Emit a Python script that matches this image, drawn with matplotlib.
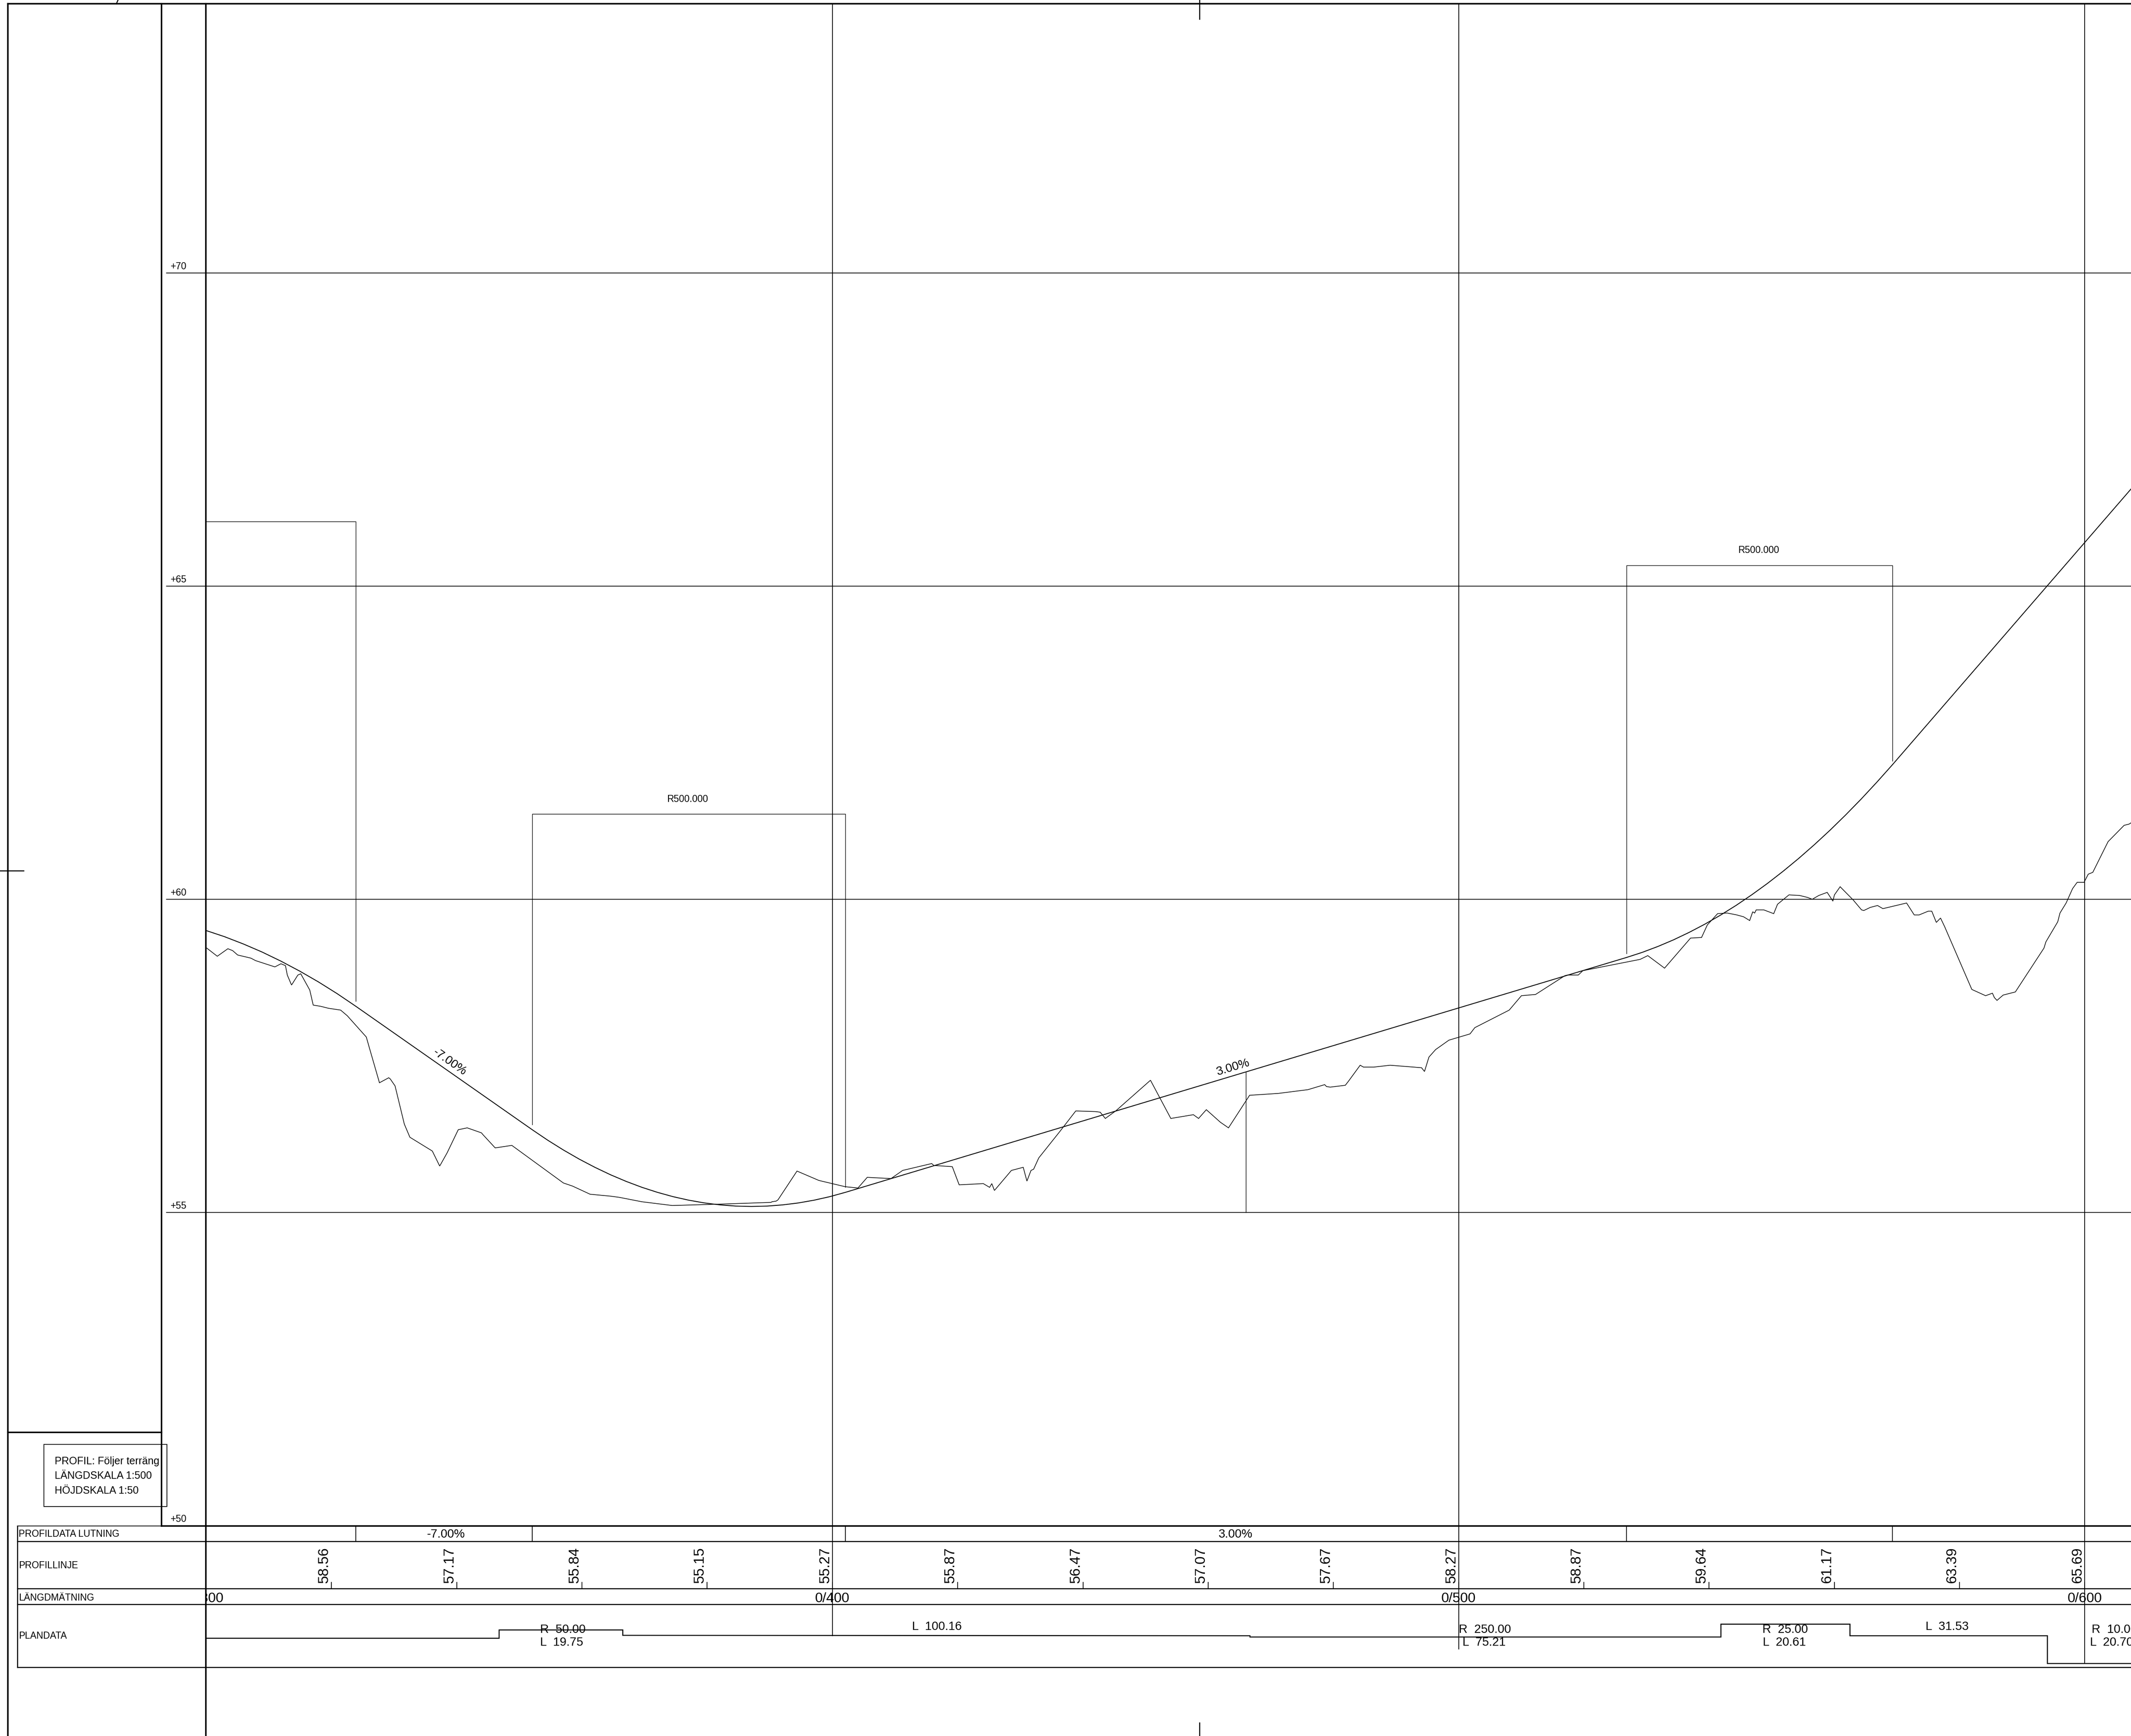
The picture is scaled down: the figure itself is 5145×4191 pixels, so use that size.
import matplotlib
matplotlib.use("Agg")
import matplotlib.pyplot as plt
import matplotlib.patches as patches
from matplotlib import transforms

plt.rcParams["font.family"] = ["Liberation Sans", "DejaVu Sans"]

# terrain line, station (m) / elevation (m)
terrain_st = [300.08, 301.76, 303.45, 304.21, 305.01, 307.12, 307.88, 310.96, 311.93, 312.65,
              312.94, 313.62, 314.63, 315.09, 316.53, 317.08, 318.30, 319.48, 321.46, 322.52,
              325.56, 326.10, 327.66, 329.14, 329.39, 330.15, 331.63, 332.52, 336.10, 337.28,
              338.46, 340.24, 341.67, 343.95, 344.20, 346.14, 348.80, 357.03, 358.50, 361.30,
              364.51, 365.99, 369.57, 374.42, 381.38, 390.20, 390.33, 391.00, 391.30, 394.34,
              397.84, 402.06, 404.08, 405.56, 409.35, 411.21, 415.85, 416.19, 419.14, 420.24,
              424.09, 425.10, 425.45, 425.87, 428.58, 430.47, 431.06, 431.71, 432.13, 432.95,
              436.38, 438.86, 441.99, 442.76, 443.58, 445.24, 450.79, 454.04, 457.64, 458.47,
              459.71, 461.95, 463.25, 466.62, 471.22, 475.95, 478.61, 478.90, 479.49, 481.91,
              482.45, 484.28, 484.81, 486.46, 489.06, 494.08, 494.55, 495.26, 496.33, 498.45,
              501.82, 502.59, 508.08, 510.03, 512.29, 516.98, 517.41, 519.11, 519.85, 528.99,
              530.21, 532.89, 537.04, 538.80, 539.72, 541.36, 542.89, 544.41, 545.51, 546.48,
              546.97, 547.28, 547.52, 548.74, 550.32, 550.93, 552.76, 554.47, 555.69, 556.48,
              557.52, 558.86, 559.77, 560.02, 560.93, 563.00, 564.35, 564.71, 565.75, 566.90,
              567.76, 571.54, 572.76, 573.55, 575.01, 575.56, 576.29, 576.96, 577.63, 581.96,
              584.16, 585.25, 585.56, 585.98, 586.96, 588.91, 593.48, 593.79, 595.68, 596.04,
              597.02, 598.05, 598.78, 599.88, 600.55, 601.28, 603.72, 606.28, 607.07, 607.38]
terrain_el = [59.22, 59.09, 59.21, 59.18, 59.11, 59.06, 59.02, 58.92, 58.97, 58.94,
              58.79, 58.63, 58.79, 58.81, 58.55, 58.31, 58.29, 58.26, 58.23, 58.14,
              57.80, 57.61, 57.07, 57.15, 57.13, 57.02, 56.41, 56.20, 55.98, 55.74,
              55.95, 56.32, 56.35, 56.27, 56.24, 56.03, 56.07, 55.47, 55.42, 55.29,
              55.26, 55.24, 55.17, 55.11, 55.13, 55.16, 55.17, 55.18, 55.20, 55.66,
              55.51, 55.41, 55.39, 55.56, 55.54, 55.67, 55.78, 55.75, 55.73, 55.44,
              55.46, 55.40, 55.46, 55.35, 55.67, 55.72, 55.50, 55.67, 55.69, 55.87,
              56.30, 56.62, 56.61, 56.60, 56.50, 56.62, 57.11, 56.50, 56.56, 56.50,
              56.64, 56.44, 56.35, 56.87, 56.90, 56.96, 57.04, 57.01, 57.00, 57.03,
              57.10, 57.35, 57.32, 57.32, 57.35, 57.31, 57.25, 57.48, 57.60, 57.75,
              57.85, 57.95, 58.23, 58.46, 58.48, 58.78, 58.79, 58.79, 58.86, 59.04,
              59.10, 58.90, 59.38, 59.39, 59.59, 59.77, 59.78, 59.75, 59.72, 59.66,
              59.80, 59.78, 59.83, 59.83, 59.77, 59.92, 60.07, 60.06, 60.03, 60.00,
              60.06, 60.11, 59.97, 60.07, 60.20, 59.99, 59.83, 59.82, 59.87, 59.90,
              59.85, 59.94, 59.75, 59.75, 59.81, 59.81, 59.63, 59.70, 59.56, 58.56,
              58.46, 58.50, 58.43, 58.385, 58.47, 58.52, 59.22, 59.32, 59.64, 59.78,
              59.94, 60.17, 60.27, 60.27, 60.40, 60.43, 60.92, 61.18, 61.20, 61.22]

# design line
design_st = [300.08, 302.90, 305.90, 308.90, 311.90, 314.90, 317.90, 320.90, 323.90, 352.06,
             354.56, 357.06, 359.56, 362.06, 364.56, 367.06, 369.56, 372.06, 374.56, 377.06,
             379.56, 382.06, 384.56, 387.06, 389.56, 392.06, 394.56, 397.06, 399.56, 402.06,
             526.80, 529.30, 531.80, 534.30, 536.80, 539.30, 541.80, 544.30, 546.80, 549.30,
             551.80, 554.30, 556.80, 559.30, 561.80, 564.30, 566.80, 569.30, 607.38]
design_el = [59.497, 59.403, 59.287, 59.158, 59.013, 58.854, 58.681, 58.493, 58.29, 56.32,
             56.151, 55.995, 55.851, 55.72, 55.601, 55.495, 55.401, 55.32, 55.251, 55.195,
             55.151, 55.12, 55.101, 55.095, 55.101, 55.12, 55.151, 55.195, 55.251, 55.32,
             59.07, 59.151, 59.245, 59.351, 59.47, 59.601, 59.745, 59.901, 60.07, 60.251,
             60.445, 60.651, 60.87, 61.101, 61.345, 61.601, 61.87, 62.15, 66.55]

elev_lines = [70, 65, 60, 55]
elev_labels = ["+70", "+65", "+60", "+55", "+50"]
elev_label_at = [70, 65, 60, 55, 50]
grid_stations = [400, 500, 600]
grid_ends = [3949, 3981, 4016]
slope_breaks = [323.90, 352.06, 402.06, 526.80, 569.30]
profile_stations = [320, 340, 360, 380, 400, 420, 440, 460, 480, 500, 520, 540, 560, 580, 600]
profile_heights = ["58.56", "57.17", "55.84", "55.15", "55.27", "55.87", "56.47", "57.07",
                   "57.67", "58.27", "58.87", "59.64", "61.17", "63.39", "65.69"]
chainage_st = [300, 400, 500, 600]
chainage_labels = ["0/300", "0/400", "0/500", "0/600"]
plan_st = [300.0, 346.77, 346.77, 366.52, 366.52, 466.68, 466.68, 541.89, 541.89, 562.50,
           562.50, 594.03, 594.03, 607.38]
plan_lev = [3955, 3955, 3935, 3935, 3948, 3949, 3952, 3952, 3921, 3921, 3949, 3949, 4016, 4016]
row_names = ["PROFILDATA LUTNING", "PROFILLINJE", "LÄNGDMÄTNING", "PLANDATA"]
row_name_y = [3703, 3779, 3857, 3949]
row_lines = [3721, 3835, 3873, 4025]
legend_lines = ["PROFIL: Följer terräng", "LÄNGDSKALA 1:500", "HÖJDSKALA 1:50"]

fig = plt.figure(figsize=(51.45, 41.91), dpi=100, facecolor="white")

# sheet axes in drawing pixels, profile axes in metres, same area
sheet = fig.add_axes([0, 0, 1, 1])
sheet.set_xlim(0, 5145)
sheet.set_ylim(4191, 0)
sheet.axis("off")
prof = fig.add_axes([0, 0, 1, 1])
prof.set_xlim(267.06, 607.38)
prof.set_ylim(46.64, 74.358)
prof.axis("off")
prof.patch.set_alpha(0)

# x in station, y in sheet pixels (bottom table)
tab = transforms.blended_transform_factory(prof.transData, sheet.transData)
# x in sheet pixels, y in elevation (elevation labels)
elev = transforms.blended_transform_factory(sheet.transData, prof.transData)

THICK = 2.6
MID = 1.8
THIN = 1.3

# sheet frame
sheet.plot([19, 19], [4191, 9], color="black", lw=THICK)
sheet.plot([19, 5145], [9, 9], color="black", lw=THICK)
sheet.plot([390, 390], [9, 3684], color="black", lw=THICK)
sheet.plot([497, 497], [9, 4191], color="black", lw=THICK)
sheet.plot([19, 390], [3458, 3458], color="black", lw=THICK)
sheet.plot([390, 5145], [3684, 3684], color="black", lw=THICK)
sheet.plot([2896, 2896], [0, 46], color="black", lw=MID)
sheet.plot([2896, 2896], [4159, 4191], color="black", lw=MID)
sheet.plot([0, 57], [2102, 2102], color="black", lw=MID)
sheet.plot([281, 285], [9, 0], color="black", lw=MID)

# legend box
sheet.add_patch(patches.Rectangle((106, 3487), 297, 150, fill=False, ec="black", lw=THIN))
for txt, y in zip(legend_lines, [3528, 3563, 3599]):
    sheet.text(132, y, txt, fontsize=18, ha="left", va="center")

# elevation grid
for e in elev_lines:
    prof.plot([402, 5145], [e, e], color="black", lw=THIN, transform=elev)
for txt, e in zip(elev_labels, elev_label_at):
    prof.text(412, e + 0.105, txt, fontsize=16.5, ha="left", va="center", transform=elev)

# station grid
for s, yend in zip(grid_stations, grid_ends):
    prof.plot([s, s], [9, yend], color="black", lw=THIN, transform=tab)

# vertical curve brackets
prof.plot([300, 323.90, 323.90], [66.03, 66.03, 58.37], color="black", lw=1.0)
prof.plot([352.06, 352.06, 402.06, 402.06], [56.40, 61.36, 61.36, 55.40], color="black", lw=1.0)
prof.plot([526.80, 526.80, 569.30, 569.30], [59.135, 65.33, 65.33, 62.21], color="black", lw=1.0)
prof.plot([466.03, 466.03], [55, 57.24], color="black", lw=1.0)
prof.text(376.86, 61.60, "R500.000", fontsize=16.5, ha="center", va="center")
prof.text(547.90, 65.57, "R500.000", fontsize=16.5, ha="center", va="center")

# profile lines
prof.plot(terrain_st, terrain_el, color="black", lw=1.15, solid_joinstyle="miter")
prof.plot(design_st, design_el, color="black", lw=1.5)
prof.text(338.9, 57.40, "-7.00%", fontsize=21, rotation=-35, rotation_mode="anchor", ha="center", va="center")
prof.text(464.0, 57.32, "3.00%", fontsize=21, rotation=16.7, rotation_mode="anchor", ha="center", va="center")

# bottom table
sheet.plot([42, 42], [3684, 4025], color="black", lw=MID)
sheet.plot([42, 390], [3684, 3684], color="black", lw=THIN)
for y in row_lines:
    sheet.plot([42, 5145], [y, y], color="black", lw=MID)
for txt, y in zip(row_names, row_name_y):
    sheet.text(45, y, txt, fontsize=16.3, ha="left", va="center")
for s in slope_breaks:
    prof.plot([s, s], [3684, 3721], color="black", lw=THIN, transform=tab)
prof.text(338.3, 3704, "-7.00%", fontsize=21, ha="center", va="center", transform=tab)
prof.text(464.4, 3704, "3.00%", fontsize=21, ha="center", va="center", transform=tab)

for s, h in zip(profile_stations, profile_heights):
    prof.plot([s, s], [3820, 3835], color="black", lw=THIN, transform=tab)
    prof.annotate(h, xy=(s, 3779), xycoords=tab, xytext=(-1, 0), textcoords="offset points",
                  fontsize=25, rotation=90, ha="right", va="center")

clip = patches.Rectangle((497, 0), 4648, 4191, transform=sheet.transData)
for s, txt in zip(chainage_st, chainage_labels):
    t = prof.text(s, 3859, txt, fontsize=24, ha="center", va="center", transform=tab)
    t.set_clip_on(True)
    t.set_clip_path(clip)

prof.plot(plan_st, plan_lev, color="black", lw=MID, transform=tab, solid_joinstyle="miter")

plan_text = [(353.3, 3934, "R  50.00"), (353.3, 3965, "L  19.75"), (412.7, 3927, "L  100.16"),
             (500.0, 3934, "R  250.00"), (500.6, 3965, "L  75.21"), (548.5, 3934, "R  25.00"),
             (548.6, 3965, "L  20.61"), (574.6, 3927, "L  31.53"), (601.1, 3934, "R  10.00"),
             (600.8, 3965, "L  20.70")]
for s, y, txt in plan_text:
    prof.text(s, y, txt, fontsize=21, ha="left", va="center", transform=tab, clip_on=True)

fig.savefig("out.png", dpi=100)
